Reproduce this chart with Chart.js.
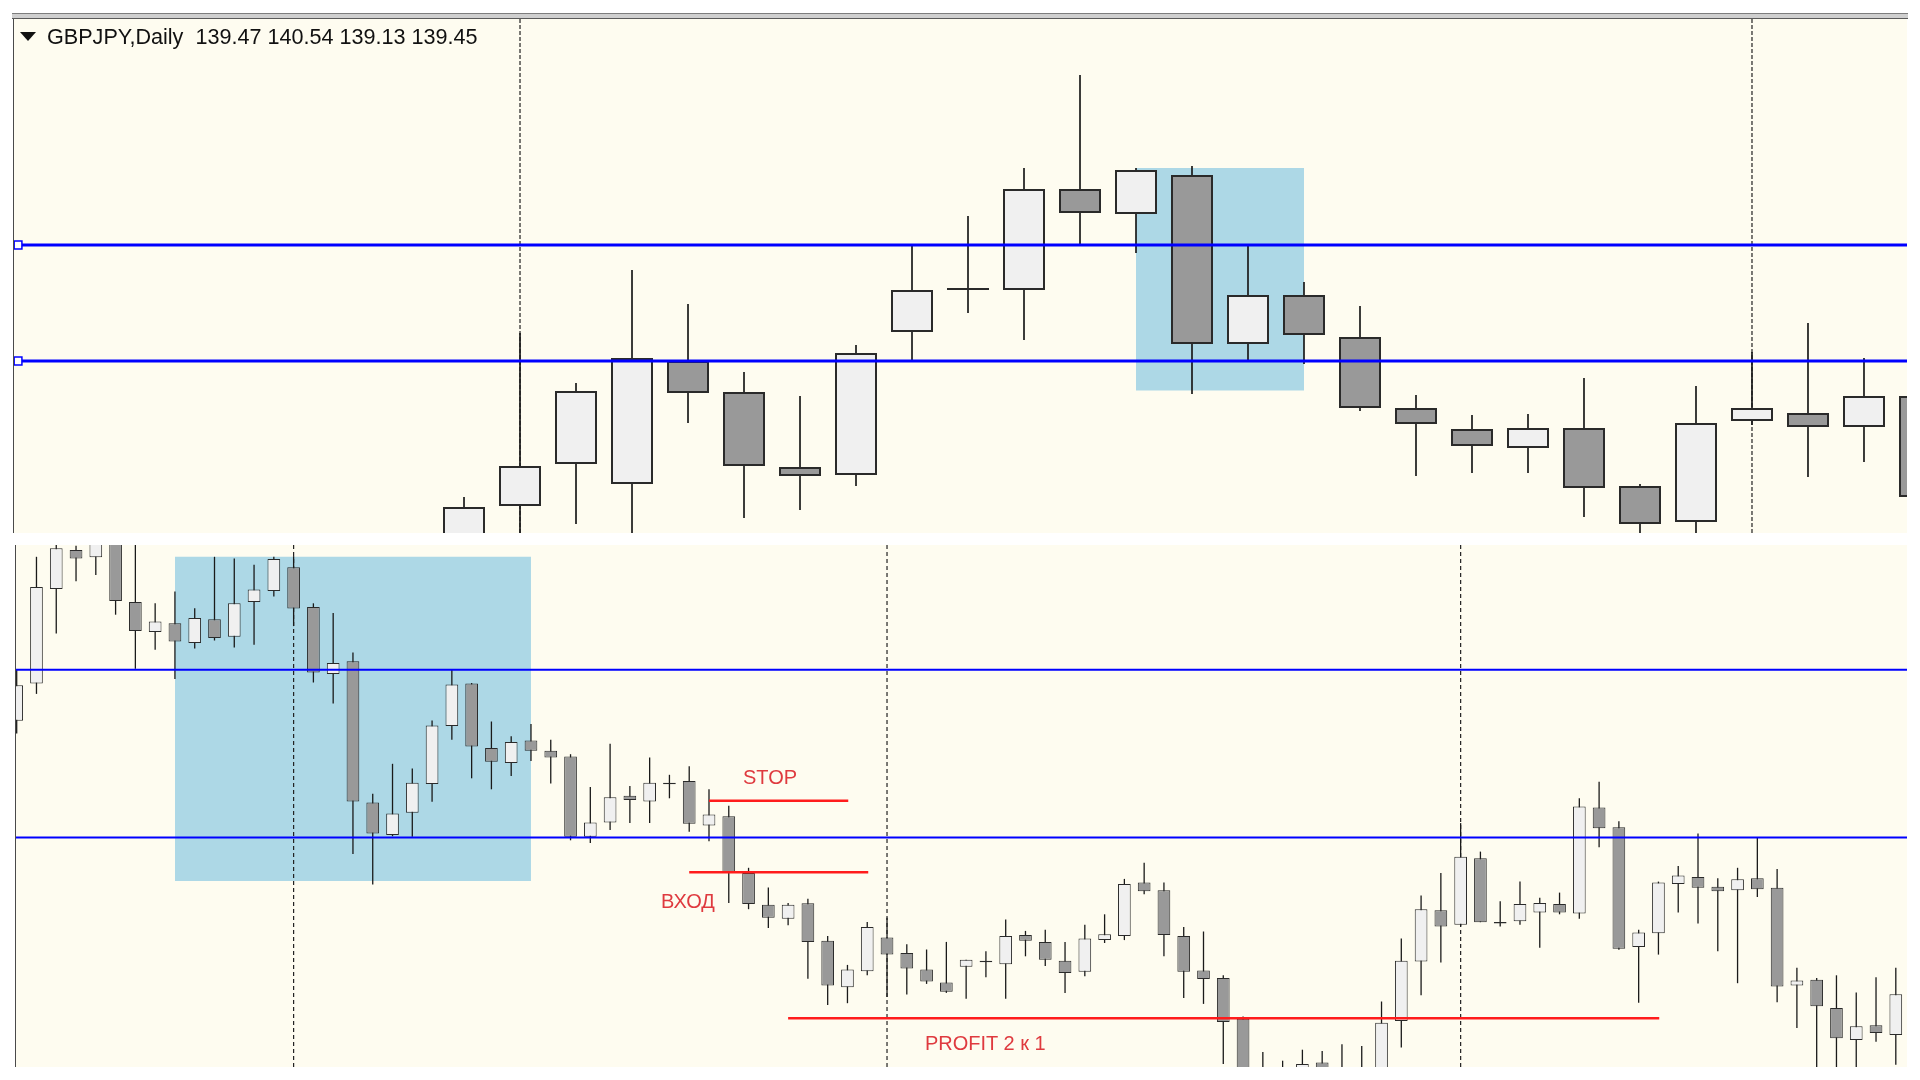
<!DOCTYPE html>
<html lang="ru">
<head>
<meta charset="utf-8">
<title>GBPJPY, Daily</title>
<script src="https://cdn.jsdelivr.net/npm/chart.js@4.4.1/dist/chart.umd.min.js"></script>
<style>
  html, body { margin: 0; padding: 0; background: #fff; }
  body { position: relative; width: 1920px; height: 1080px; overflow: hidden;
         font-family: "Liberation Sans", Arial, sans-serif; }
  .rule { position: absolute; left: 12px; top: 13px; width: 1896px; height: 4px;
          background: #cfcfcf; border-top: 1px solid #7d7d7d; border-bottom: 1px solid #5a5a5a; }
  .panel { position: absolute; background: #fefcf0; border-left: 1px solid #4a4a4a; box-sizing: border-box; }
  #topPanel { left: 13px; top: 19px; width: 1894px; height: 514px; }
  #botPanel { left: 15px; top: 545px; width: 1892px; height: 522px; }
  canvas { position: absolute; }
  #topChart { left: 14px; top: 19px; }
  #botChart { left: 16px; top: 545px; }
  .caption { position: absolute; left: 47px; top: 26px; font-size: 21.6px; line-height: 22px;
             color: #111; white-space: pre; }
  .arrow { position: absolute; left: 20px; top: 32px; width: 0; height: 0;
           border-left: 8px solid transparent; border-right: 8px solid transparent; border-top: 9px solid #111; }
  .tag { position: absolute; font-size: 20px; line-height: 20px; color: #df3a3f; white-space: pre; }
</style>
</head>
<body>

<div class="rule"></div>
<div class="panel" id="topPanel"></div>
<div class="panel" id="botPanel"></div>
<canvas id="topChart" width="1893" height="514"></canvas>
<canvas id="botChart" width="1891" height="522"></canvas>

<div class="arrow"></div>
<div class="caption">GBPJPY,Daily  139.47 140.54 139.13 139.45</div>
<div class="tag" style="left:743px; top:767px;">STOP</div>
<div class="tag" style="left:661px; top:891px;">ВХОД</div>
<div class="tag" style="left:925px; top:1033px;">PROFIT 2 к 1</div>

<script>
/* ---- Top panel: daily bars, zoomed in ---- */
const topOpen  = [137.73, 138.12, 138.54, 138.34, 139.57, 139.26, 138.51, 138.43, 139.86, 140.28,
                  140.28, 141.29, 141.04, 141.43, 139.74, 140.23, 139.81, 139.10, 138.89, 138.70,
                  138.90, 138.32, 137.96, 138.97, 139.05, 138.91, 139.22];
const topHigh  = [138.21, 139.85, 139.35, 140.48, 140.14, 139.46, 139.22, 139.73, 140.73, 141.02,
                  141.50, 142.43, 141.50, 141.52, 140.73, 140.36, 140.12, 139.23, 139.03, 139.04,
                  139.40, 138.34, 139.32, 139.66, 139.95, 139.60, 139.28];
const topLow   = [137.58, 137.58, 137.94, 137.78, 138.95, 138.00, 138.08, 138.32, 139.57, 140.05,
                  139.78, 140.73, 140.65, 139.24, 139.57, 139.54, 139.07, 138.42, 138.45, 138.45,
                  138.01, 137.78, 137.78, 138.93, 138.41, 138.56, 138.13];
const topClose = [138.11, 138.52, 139.27, 139.60, 139.25, 138.52, 138.42, 139.65, 140.28, 140.30,
                  141.29, 141.05, 141.48, 139.74, 140.23, 139.83, 139.10, 138.94, 138.72, 138.90,
                  138.30, 137.94, 138.95, 139.10, 138.91, 139.22, 138.21];
const topLevels = [140.73, 139.57];
const topBox = [12, 15, 141.50, 139.275];      // from bar, to bar, upper price, lower price
const topSeparators = [1, 23];

/* ---- Bottom panel: same pair, zoomed out ---- */
const botOpen  = [143.242, 143.614, 144.561, 144.95, 144.878, 145.10, 144.43, 144.131, 144.217, 144.02,
                  144.258, 144.083, 144.43, 144.54, 144.778, 144.379, 143.71, 143.838, 142.426, 142.099,
                  142.323, 142.609, 143.19, 143.614, 142.97, 142.819, 143.046, 142.943, 142.884, 142.082,
                  142.226, 142.492, 142.436, 142.607, 142.64, 142.195, 142.288, 141.72, 141.403, 141.262,
                  141.417, 141.042, 140.577, 140.738, 141.076, 140.921, 140.756, 140.625, 140.783, 140.828,
                  140.807, 141.10, 141.031, 140.842, 140.732, 141.049, 141.09, 141.624, 141.548, 141.09,
                  140.745, 140.67, 140.263, 139.70, 139.73, 139.58, 139.826, 139.60, 139.74, 139.65,
                  140.239, 140.835, 141.348, 141.203, 141.868, 141.215, 141.238, 141.324, 141.41, 141.314,
                  142.374, 142.178, 140.98, 141.117, 141.61, 141.679, 141.582, 141.548, 141.668, 141.572,
                  140.594, 140.652, 140.37, 140.05, 140.198, 140.101];
const botHigh  = [143.752, 144.882, 145.05, 144.992, 145.09, 145.15, 145.10, 144.417, 144.534, 144.368,
                  144.882, 144.864, 144.802, 144.882, 144.889, 144.417, 144.32, 143.924, 142.512, 142.812,
                  142.764, 143.246, 143.752, 143.62, 143.235, 143.087, 143.211, 143.053, 142.908, 142.581,
                  143.012, 142.591, 142.874, 142.702, 142.788, 142.557, 142.392, 141.772, 141.575, 141.42,
                  141.462, 141.09, 140.801, 141.231, 141.272, 141.007, 140.955, 141.031, 140.852, 140.938,
                  141.255, 141.141, 141.152, 141.031, 141.203, 141.307, 141.661, 141.823, 141.624, 141.179,
                  141.135, 140.697, 140.284, 139.93, 139.843, 139.953, 139.94, 140.008, 139.991, 140.435,
                  141.066, 141.496, 141.72, 142.219, 141.934, 141.438, 141.634, 141.472, 141.524, 142.467,
                  142.633, 142.237, 141.152, 141.634, 141.789, 142.116, 141.668, 141.772, 142.075, 141.761,
                  140.773, 140.67, 140.697, 140.525, 140.677, 140.773];
const botLow   = [143.115, 143.511, 144.114, 144.637, 144.699, 144.303, 143.762, 143.952, 143.659, 143.966,
                  144.045, 143.976, 144.003, 144.486, 144.189, 143.625, 143.414, 141.91, 141.606, 142.088,
                  142.082, 142.433, 143.053, 142.667, 142.557, 142.691, 142.839, 142.615, 142.047, 142.02,
                  142.15, 142.219, 142.219, 142.467, 142.133, 142.037, 141.42, 141.358, 141.169, 141.197,
                  140.663, 140.401, 140.418, 140.697, 140.48, 140.504, 140.611, 140.521, 140.463, 140.677,
                  140.463, 140.887, 140.79, 140.521, 140.687, 141.02, 141.049, 141.507, 140.887, 140.47,
                  140.411, 139.809, 139.50, 139.45, 139.45, 139.50, 139.52, 139.55, 139.55, 139.55,
                  139.974, 140.497, 140.825, 141.186, 141.228, 141.186, 141.203, 140.973, 141.307, 141.262,
                  141.978, 140.952, 140.422, 140.904, 141.324, 141.214, 140.938, 140.618, 141.479, 140.428,
                  140.17, 139.65, 139.65, 139.65, 140.032, 139.802];
const botClose = [143.597, 144.579, 144.968, 144.864, 145.03, 144.441, 144.141, 144.234, 144.034, 144.269,
                  144.069, 144.417, 144.554, 144.861, 144.365, 143.725, 143.821, 142.436, 142.116, 142.316,
                  142.622, 143.194, 143.604, 142.984, 142.832, 143.029, 142.943, 142.874, 142.082, 142.226,
                  142.478, 142.45, 142.622, 142.622, 142.212, 142.306, 141.73, 141.41, 141.272, 141.403,
                  141.031, 140.594, 140.756, 141.179, 140.904, 140.766, 140.635, 140.532, 140.852, 140.842,
                  141.09, 141.042, 140.852, 140.721, 141.066, 141.107, 141.61, 141.537, 141.10, 140.732,
                  140.659, 140.229, 139.60, 139.55, 139.58, 139.809, 139.63, 139.72, 139.62, 140.222,
                  140.842, 141.358, 141.186, 141.882, 141.228, 141.23, 141.41, 141.42, 141.324, 142.385,
                  142.168, 140.962, 141.124, 141.624, 141.696, 141.572, 141.537, 141.658, 141.558, 140.584,
                  140.645, 140.387, 140.067, 140.188, 140.119, 140.508];
const botLevels = [143.752, 142.075];
const botBox = [8, 26, 144.882, 141.641];
const botSeparators = [14, 44, 73];
const stopLine   = [35, 42.04, 142.443];       // from bar, to bar, price
const entryLine  = [34, 43.05, 141.727];
const profitLine = [39, 83.04, 140.267];


/* ---- Colours ---- */
const mt4 = {
  bull:  "#f0f0f0",
  bear:  "#999999",
  edge:  "#2a2a2a",
  wick:  "#1a1a1a",
  level: "#0000ff",
  box:   "#add8e6",
  sep:   "#222222",
  trade: "#ff1c1c"
};


/* ---- Dataset helpers ---- */
function candleSets(open, high, low, close, look) {
  const isBull = close.map((c, i) => c >= open[i]);
  return [
    {
      type: "bar",
      data: high.map((h, i) => ({ x: i, y: [low[i], h] })),
      backgroundColor: mt4.wick,
      borderWidth: 0,
      barThickness: look.wick,
      inflateAmount: 0,
      grouped: false,
      order: 4
    },
    {
      type: "bar",
      data: open.map((o, i) => ({ x: i, y: [o, close[i]] })),
      backgroundColor: isBull.map(b => b ? mt4.bull : mt4.bear),
      borderColor: mt4.edge,
      borderWidth: look.edge,
      borderSkipped: false,
      barThickness: look.body,
      inflateAmount: 0,
      grouped: false,
      order: 3
    }
  ];
}

function segment(x1, x2, y, color, width, order) {
  return {
    type: "line",
    data: [{ x: x1, y: y }, { x: x2, y: y }],
    borderColor: color,
    borderWidth: width,
    pointRadius: 0,
    fill: false,
    order: order
  };
}

function separator(x, yMin, yMax, dash) {
  return {
    type: "line",
    data: [{ x: x, y: yMin }, { x: x, y: yMax }],
    borderColor: mt4.sep,
    borderWidth: 1.2,
    borderDash: dash,
    pointRadius: 0,
    fill: false,
    order: 8
  };
}

function boxSet(box) {
  return {
    type: "line",
    data: [{ x: box[0], y: box[2] }, { x: box[1], y: box[2] }],
    borderWidth: 0,
    pointRadius: 0,
    backgroundColor: mt4.box,
    fill: { value: box[3] },
    order: 9
  };
}

function chartOptions(xMin, xMax, yMin, yMax) {
  return {
    responsive: false,
    animation: false,
    events: [],
    layout: { padding: 0 },
    plugins: { legend: { display: false }, tooltip: { enabled: false } },
    elements: { line: { tension: 0 } },
    scales: {
      x: { type: "linear", min: xMin, max: xMax, offset: false, display: false },
      y: { type: "linear", min: yMin, max: yMax, display: false }
    }
  };
}


/* ---- Top chart ---- */
function initTopChart() {
  const xMin = -8.036, xMax = 25.768;
  const yMin = 137.85, yMax = 142.99;
  const handleX = -7.964;

  const levels = topLevels.map(p => ({
    type: "line",
    data: [{ x: xMin, y: p }, { x: handleX, y: p }, { x: xMax, y: p }],
    borderColor: mt4.level,
    borderWidth: 3,
    pointRadius: [0, 5.5, 0],
    pointStyle: "rect",
    pointBackgroundColor: "#ffffff",
    pointBorderColor: mt4.level,
    pointBorderWidth: 1.5,
    fill: false,
    order: 2
  }));

  new Chart(document.getElementById("topChart"), {
    type: "bar",
    data: {
      datasets: [
        boxSet(topBox),
        ...topSeparators.map(x => separator(x, yMin, yMax, [4, 2])),
        ...candleSets(topOpen, topHigh, topLow, topClose, { body: 42, wick: 1.7, edge: 2 }),
        ...levels
      ]
    },
    options: chartOptions(xMin, xMax, yMin, yMax)
  });
}


/* ---- Bottom chart ---- */
function initBottomChart() {
  const xMin = -0.035, xMax = 95.566;
  const yMin = 139.78, yMax = 145.00;

  new Chart(document.getElementById("botChart"), {
    type: "bar",
    data: {
      datasets: [
        boxSet(botBox),
        ...botSeparators.map(x => separator(x, yMin, yMax, [4, 3])),
        ...candleSets(botOpen, botHigh, botLow, botClose, { body: 12.7, wick: 1.3, edge: 1 }),
        ...botLevels.map(p => segment(xMin, xMax, p, mt4.level, 2, 2)),
        segment(stopLine[0], stopLine[1], stopLine[2], mt4.trade, 2.5, 1),
        segment(entryLine[0], entryLine[1], entryLine[2], mt4.trade, 2.5, 1),
        segment(profitLine[0], profitLine[1], profitLine[2], mt4.trade, 2.5, 1)
      ]
    },
    options: chartOptions(xMin, xMax, yMin, yMax)
  });
}

initTopChart();
initBottomChart();
</script>
</body>
</html>
